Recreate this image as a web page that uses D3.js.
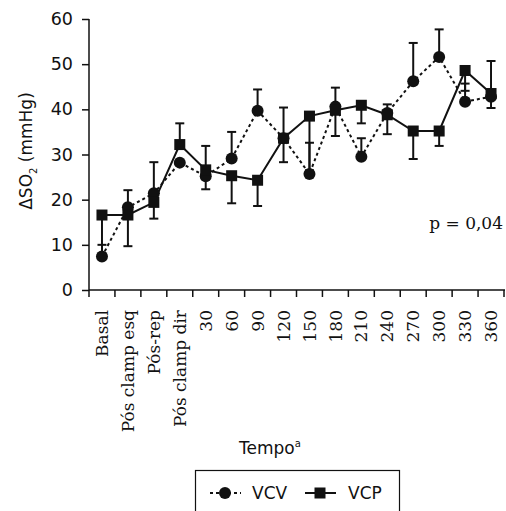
<!DOCTYPE html>
<html><head><meta charset="utf-8">
<script src="https://cdn.jsdelivr.net/npm/d3@7"></script>
<style>body{margin:0;background:#fff}svg{display:block}</style>
</head><body>
<script>
const categories = ["Basal","Pós clamp esq","Pós-rep","Pós clamp dir","30","60","90","120","150","180","210","240","270","300","330","360"];
const vcv = [7.4,18.3,21.4,28.2,25.2,29.1,39.7,33.6,25.7,40.6,29.5,39.2,46.2,51.6,41.7,42.8];
const vcp = [16.6,16.6,19.4,32.2,26.6,25.3,24.3,33.6,38.5,39.8,40.9,38.8,35.2,35.2,48.6,43.5];
const vcvBarEnd = [10.0,22.1,28.3,null,22.3,35.0,44.4,40.4,32.6,44.8,33.6,41.1,54.7,57.7,45.7,40.3];
const vcpBarEnd = [8.0,9.7,15.8,36.9,31.9,19.2,18.6,28.3,26.5,34.1,36.9,34.5,29.0,31.9,44.1,50.7];
const yTicks = [0,10,20,30,40,50,60];

const W=506,H=511;
const svg=d3.select("body").append("svg").attr("width",W).attr("height",H);
const x=d3.scaleBand().domain(categories).range([89,504]);
const y=d3.scaleLinear().domain([0,60]).range([290,19]);
const cx=d=>x(d)+x.bandwidth()/2;
const ink="#111";

// y axis
const ya=svg.append("g").attr("transform","translate(89,0)")
  .call(d3.axisLeft(y).tickValues(yTicks).tickSize(7).tickPadding(9));
ya.select(".domain").attr("stroke",ink).attr("stroke-width",1.5).attr("d","M0,"+y(60)+"V"+y(0));
ya.selectAll(".tick line").attr("stroke",ink).attr("stroke-width",1.5);
ya.selectAll(".tick text").attr("font-family","DejaVu Sans").attr("font-size",17.5).attr("fill",ink);

// x axis
const xa=svg.append("g").attr("transform","translate(0,290)")
  .call(d3.axisBottom(x).tickSize(0).tickPadding(0));
xa.select(".domain").attr("stroke",ink).attr("stroke-width",1.5).attr("d","M89,0H505");
xa.selectAll(".tick text")
  .attr("font-family","DejaVu Serif").attr("font-size",17).attr("fill",ink)
  .attr("text-anchor","end").attr("transform","rotate(-90)")
  .attr("x",-20).attr("y",0).attr("dy","0.36em");
const bounds=categories.map(c=>x(c)).concat([x.range()[1]]);
svg.append("g").selectAll("line").data(bounds).join("line")
  .attr("x1",d=>d).attr("x2",d=>d).attr("y1",290).attr("y2",297)
  .attr("stroke",ink).attr("stroke-width",1.5);

// y title
const yt=svg.append("text").attr("transform","translate(32,151) rotate(-90)")
  .attr("text-anchor","middle").attr("font-family","DejaVu Sans").attr("font-size",17).attr("fill",ink);
yt.append("tspan").text("ΔSO");
yt.append("tspan").text("2").attr("font-size",10).attr("dy",5);
yt.append("tspan").text(" (mmHg)").attr("dy",-5);

// x title
const xt=svg.append("text").attr("x",270).attr("y",454).attr("text-anchor","middle")
  .attr("font-family","DejaVu Sans").attr("font-size",17).attr("fill",ink);
xt.append("tspan").text("Tempo");
xt.append("tspan").text("a").attr("font-size",10).attr("dy",-7);

// p value
svg.append("text").attr("x",503).attr("y",229).attr("text-anchor","end")
  .attr("font-family","DejaVu Serif").attr("font-size",17).attr("fill",ink).text("p = 0,04");

function bars(vals,ends){
  const g=svg.append("g").attr("stroke",ink).attr("stroke-width",2);
  categories.forEach((c,i)=>{
    if(ends[i]==null) return;
    g.append("line").attr("x1",cx(c)).attr("x2",cx(c)).attr("y1",y(vals[i])).attr("y2",y(ends[i]));
    g.append("line").attr("x1",cx(c)-4.5).attr("x2",cx(c)+4.5).attr("y1",y(ends[i])).attr("y2",y(ends[i]));
  });
}
bars(vcv,vcvBarEnd);
bars(vcp,vcpBarEnd);

const line=d3.line().x((d,i)=>cx(categories[i])).y(d=>y(d));
svg.append("path").datum(vcv).attr("d",line).attr("fill","none").attr("stroke",ink)
  .attr("stroke-width",2).attr("stroke-dasharray","3,3");
svg.append("g").selectAll("circle").data(vcv).join("circle")
  .attr("cx",(d,i)=>cx(categories[i])).attr("cy",d=>y(d)).attr("r",6).attr("fill",ink);
svg.append("path").datum(vcp).attr("d",line).attr("fill","none").attr("stroke",ink).attr("stroke-width",2);
svg.append("g").selectAll("rect").data(vcp).join("rect")
  .attr("x",(d,i)=>cx(categories[i])-5.5).attr("y",d=>y(d)-5.5).attr("width",11).attr("height",11).attr("fill",ink);

// legend
const lg=svg.append("g");
lg.append("rect").attr("x",195.5).attr("y",470.5).attr("width",204).attr("height",50)
  .attr("fill","none").attr("stroke",ink).attr("stroke-width",1.2);
lg.append("line").attr("x1",210).attr("x2",241).attr("y1",493).attr("y2",493)
  .attr("stroke",ink).attr("stroke-width",2).attr("stroke-dasharray","3,3");
lg.append("circle").attr("cx",225).attr("cy",493).attr("r",6).attr("fill",ink);
lg.append("text").attr("x",252).attr("y",499).attr("font-family","DejaVu Sans").attr("font-size",17).attr("fill",ink).text("VCV");
lg.append("line").attr("x1",305).attr("x2",336).attr("y1",493).attr("y2",493)
  .attr("stroke",ink).attr("stroke-width",2);
lg.append("rect").attr("x",314.5).attr("y",487.5).attr("width",11).attr("height",11).attr("fill",ink);
lg.append("text").attr("x",348).attr("y",499).attr("font-family","DejaVu Sans").attr("font-size",17).attr("fill",ink).text("VCP");
</script>
</body></html>
